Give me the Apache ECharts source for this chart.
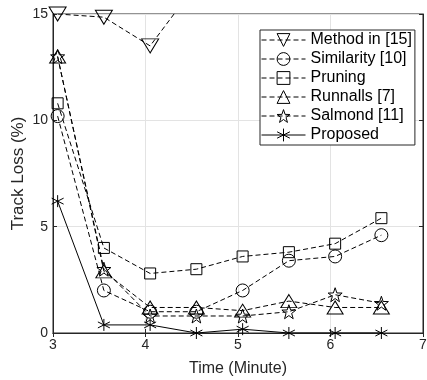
<!DOCTYPE html>
<html>
<head>
<meta charset="UTF-8">
<script src="https://cdn.jsdelivr.net/npm/echarts@6/dist/echarts.min.js"></script>
<style>html,body{margin:0;padding:0;background:#fff}#chart{width:427px;height:380px}</style>
</head>
<body>
<div id="chart"></div>
<script>
// sample times (minutes)
const times = [3.05, 3.55, 4.05, 4.55, 5.05, 5.55, 6.05, 6.55]
// track loss (%) per method
const method15 = [15.0, 14.85, 13.5, 16.4]
const similarity = [10.2, 2.0, 1.0, 1.0, 2.0, 3.4, 3.6, 4.6]
const pruning = [10.8, 4.0, 2.8, 3.0, 3.6, 3.8, 4.2, 5.4]
const runnalls = [13.0, 2.9, 1.2, 1.2, 1.05, 1.5, 1.2, 1.2]
const salmond = [13.0, 3.0, 0.8, 0.8, 0.8, 1.0, 1.8, 1.4]
const proposed = [6.2, 0.38, 0.38, 0, 0.18, 0, 0, 0]

const xTicks = [3, 4, 5, 6, 7]
const yTicks = [0, 5, 10, 15]

const STAR = 'path://M0,-10L2.35,-3.24L9.51,-3.09L3.8,1.24L5.88,8.09L0,4L-5.88,8.09L-3.8,1.24L-9.51,-3.09L-2.35,-3.24Z'
const ASTER = 'path://M0,-10L0,10M-8.66,-5L8.66,5M-8.66,5L8.66,-5'

function mk(name, vals, symbol, size, dashed, rotate) {
  return {
    name: name,
    type: 'line',
    data: vals.map((v, i) => [times[i], v]),
    symbol: symbol,
    symbolSize: size,
    symbolRotate: rotate || 0,
    showSymbol: true,
    clip: true,
    lineStyle: { color: '#000', width: 1, type: dashed ? [5, 3] : 'solid' },
    itemStyle: { color: 'rgba(0,0,0,0)', borderColor: '#000', borderWidth: 1 },
    emphasis: { disabled: true }
  }
}

const chart = echarts.init(document.getElementById('chart'))
const axisFont = { fontFamily: 'Liberation Sans', fontSize: 14, color: '#262626' }

chart.setOption({
  animation: false,
  textStyle: { fontFamily: 'Liberation Sans' },
  grid: {
    left: 53, right: 4, top: 14, bottom: 47, outerBoundsMode: 'none', containLabel: false,
    show: true, borderColor: '#262626', borderWidth: 1
  },
  legend: {
    left: 260, top: 30, orient: 'vertical',
    backgroundColor: '#fff', borderColor: '#262626', borderWidth: 1,
    padding: [2, 3, 2, 1], itemGap: 3, itemWidth: 44, itemHeight: 16,
    lineStyle: { width: 1, color: '#000' },
    itemStyle: { borderWidth: 1, borderColor: '#000', color: 'rgba(0,0,0,0)' },
    textStyle: { fontSize: 16, color: '#000', fontFamily: 'Liberation Sans' },
    data: ['Method in [15]', 'Similarity [10]', 'Pruning', 'Runnalls [7]', 'Salmond [11]', 'Proposed']
  },
  xAxis: [{
    type: 'value', min: xTicks[0], max: xTicks[xTicks.length - 1], interval: 1,
    name: 'Time (Minute)', nameLocation: 'middle', nameGap: 28, nameMoveOverlap: false,
    nameTextStyle: { fontSize: 16, color: '#262626', fontFamily: 'Liberation Sans' },
    axisLine: { lineStyle: { color: '#262626' } },
    axisTick: { inside: true, length: 4, lineStyle: { color: '#262626' } },
    axisLabel: Object.assign({ margin: 5 }, axisFont),
    splitLine: { show: true, lineStyle: { color: '#e3e3e3' } }
  }, {
    type: 'value', position: 'top', min: xTicks[0], max: xTicks[xTicks.length - 1], interval: 1,
    axisLine: { lineStyle: { color: '#262626' } },
    axisTick: { inside: true, length: 4, lineStyle: { color: '#262626' } },
    axisLabel: { show: false }, splitLine: { show: false }
  }],
  yAxis: [{
    type: 'value', min: yTicks[0], max: yTicks[yTicks.length - 1], interval: 5,
    name: 'Track Loss (%)', nameLocation: 'middle', nameGap: 26, nameMoveOverlap: false,
    nameTextStyle: { fontSize: 17, color: '#262626', fontFamily: 'Liberation Sans' },
    axisLine: { show: true, lineStyle: { color: '#262626' } },
    axisTick: { show: true, inside: true, length: 4, lineStyle: { color: '#262626' } },
    axisLabel: Object.assign({ margin: 5 }, axisFont),
    splitLine: { show: true, lineStyle: { color: '#e3e3e3' } }
  }, {
    type: 'value', position: 'right', min: yTicks[0], max: yTicks[yTicks.length - 1], interval: 5,
    axisLine: { show: true, lineStyle: { color: '#262626' } },
    axisTick: { show: true, inside: true, length: 4, lineStyle: { color: '#262626' } },
    axisLabel: { show: false }, splitLine: { show: false }
  }],
  series: [
    mk('Method in [15]', method15, 'triangle', [17, 14], true, 180),
    mk('Similarity [10]', similarity, 'circle', 13, true),
    mk('Pruning', pruning, 'rect', 11, true),
    mk('Runnalls [7]', runnalls, 'triangle', [16, 13], true),
    mk('Salmond [11]', salmond, STAR, 14, true),
    mk('Proposed', proposed, ASTER, 12, false)
  ]
})
</script>
</body>
</html>
